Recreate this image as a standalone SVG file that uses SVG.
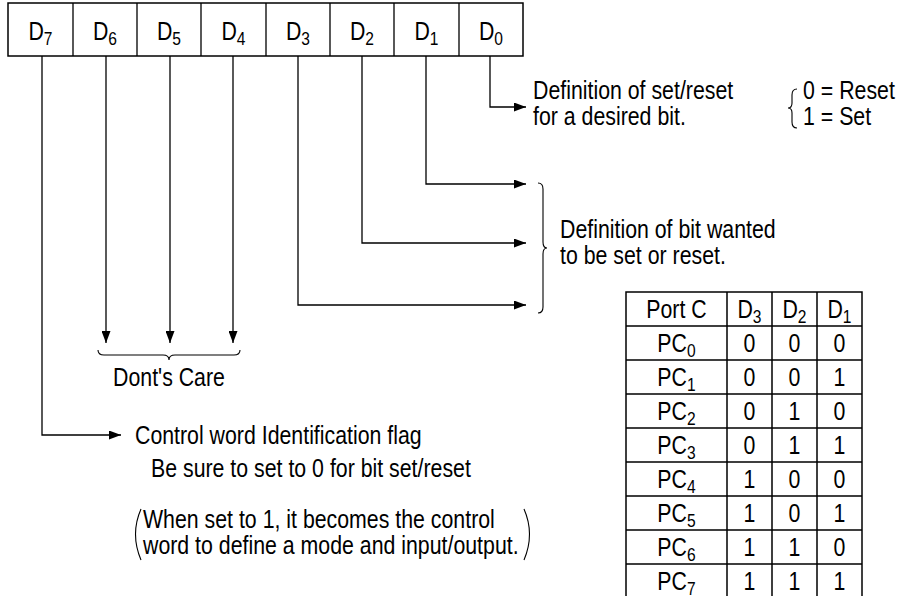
<svg xmlns="http://www.w3.org/2000/svg" width="899" height="596" viewBox="0 0 899 596">
<defs>
<marker id="ah" markerWidth="12" markerHeight="9" refX="12" refY="4.5" orient="auto" markerUnits="userSpaceOnUse">
<path d="M0,0 L12,4.5 L0,9 Z" fill="#000"/>
</marker>
<style>
text{font-family:"Liberation Sans Narrow","Liberation Sans",Arial,sans-serif;font-size:26px;fill:#000}
.c{text-anchor:middle}
.sub{font-size:19px}
.box{fill:#fff;stroke:#000;stroke-width:1.5}
.ln{fill:none;stroke:#000;stroke-width:1.3}
.br{fill:none;stroke:#000;stroke-width:1.1}
.tb{fill:none;stroke:#000;stroke-width:1.5}
</style>
</defs>
<rect width="899" height="596" fill="#fff"/>
<g id="register">
<rect class="box" x="8" y="3" width="515" height="53"/>
<path class="ln" d="M73,3V56M137,3V56M201,3V56M266,3V56M330,3V56M394,3V56M459,3V56" stroke-width="1.5"/>
<text class="c" transform="translate(40.5,40) scale(0.82,1)">D<tspan class="sub" dy="5">7</tspan></text>
<text class="c" transform="translate(105,40) scale(0.82,1)">D<tspan class="sub" dy="5">6</tspan></text>
<text class="c" transform="translate(169,40) scale(0.82,1)">D<tspan class="sub" dy="5">5</tspan></text>
<text class="c" transform="translate(233.5,40) scale(0.82,1)">D<tspan class="sub" dy="5">4</tspan></text>
<text class="c" transform="translate(298,40) scale(0.82,1)">D<tspan class="sub" dy="5">3</tspan></text>
<text class="c" transform="translate(362,40) scale(0.82,1)">D<tspan class="sub" dy="5">2</tspan></text>
<text class="c" transform="translate(426.5,40) scale(0.82,1)">D<tspan class="sub" dy="5">1</tspan></text>
<text class="c" transform="translate(491,40) scale(0.82,1)">D<tspan class="sub" dy="5">0</tspan></text>
</g>
<g id="connectors">
<path class="ln" marker-end="url(#ah)" d="M490,56V107H526"/>
<path class="ln" marker-end="url(#ah)" d="M426,56V184H526"/>
<path class="ln" marker-end="url(#ah)" d="M362,56V243H526"/>
<path class="ln" marker-end="url(#ah)" d="M298,56V305H526"/>
<path class="ln" marker-end="url(#ah)" d="M233,56V343"/>
<path class="ln" marker-end="url(#ah)" d="M170,56V343"/>
<path class="ln" marker-end="url(#ah)" d="M106,56V343"/>
<path class="ln" marker-end="url(#ah)" d="M42,56V435H121"/>
</g>
<g id="setreset">
<text transform="translate(533,99) scale(0.82,1)">Definition of set/reset</text>
<text transform="translate(533,125) scale(0.82,1)">for a desired bit.</text>
<path class="br" d="M797,89Q792,89 792,95V103Q792,108 788,108Q792,108 792,113V122Q792,128 797,128"/>
<text transform="translate(803,99) scale(0.82,1)">0 = Reset</text>
<text transform="translate(803,125) scale(0.82,1)">1 = Set</text>
</g>
<g id="bitwanted">
<path class="br" d="M538,183Q543,183 543,189V242Q543,248 547,248Q543,248 543,254V307Q543,313 538,313"/>
<text transform="translate(560,238) scale(0.82,1)">Definition of bit wanted</text>
<text transform="translate(560,264) scale(0.82,1)">to be set or reset.</text>
</g>
<g id="dontcare">
<path class="br" d="M98,350Q98,355 104,355H163Q169,355 169,360Q169,355 175,355H234Q240,355 240,350"/>
<text class="c" transform="translate(169,386) scale(0.82,1)">Dont's Care</text>
</g>
<g id="controlflag">
<text transform="translate(135,444) scale(0.82,1)">Control word Identification flag</text>
<text transform="translate(151,477) scale(0.82,1)">Be sure to set to 0 for bit set/reset</text>
<path class="br" d="M141,509Q130,534 141,560"/>
<text transform="translate(143,528) scale(0.82,1)">When set to 1, it becomes the control</text>
<text transform="translate(143,554) scale(0.82,1)">word to define a mode and input/output.</text>
<path class="br" d="M524,509Q535,534 524,560"/>
</g>
<g id="table">
<rect class="tb" x="626" y="292" width="236" height="310"/>
<path class="tb" d="M727,292V596M772,292V596M817,292V596M626,326H862M626,360H862M626,394H862M626,428H862M626,462H862M626,496H862M626,530H862M626,564H862"/>
<text class="c" transform="translate(676.5,318) scale(0.82,1)">Port C</text>
<text class="c" transform="translate(749.5,318) scale(0.82,1)">D<tspan class="sub" dy="5">3</tspan></text>
<text class="c" transform="translate(794.5,318) scale(0.82,1)">D<tspan class="sub" dy="5">2</tspan></text>
<text class="c" transform="translate(839.5,318) scale(0.82,1)">D<tspan class="sub" dy="5">1</tspan></text>
<text class="c" transform="translate(676.5,352) scale(0.82,1)">PC<tspan class="sub" dy="5">0</tspan></text>
<text class="c" transform="translate(676.5,386) scale(0.82,1)">PC<tspan class="sub" dy="5">1</tspan></text>
<text class="c" transform="translate(676.5,420) scale(0.82,1)">PC<tspan class="sub" dy="5">2</tspan></text>
<text class="c" transform="translate(676.5,454) scale(0.82,1)">PC<tspan class="sub" dy="5">3</tspan></text>
<text class="c" transform="translate(676.5,488) scale(0.82,1)">PC<tspan class="sub" dy="5">4</tspan></text>
<text class="c" transform="translate(676.5,522) scale(0.82,1)">PC<tspan class="sub" dy="5">5</tspan></text>
<text class="c" transform="translate(676.5,556) scale(0.82,1)">PC<tspan class="sub" dy="5">6</tspan></text>
<text class="c" transform="translate(676.5,590) scale(0.82,1)">PC<tspan class="sub" dy="5">7</tspan></text>
<text class="c" transform="translate(749.5,352) scale(0.82,1)">0</text><text class="c" transform="translate(794.5,352) scale(0.82,1)">0</text><text class="c" transform="translate(839.5,352) scale(0.82,1)">0</text>
<text class="c" transform="translate(749.5,386) scale(0.82,1)">0</text><text class="c" transform="translate(794.5,386) scale(0.82,1)">0</text><text class="c" transform="translate(839.5,386) scale(0.82,1)">1</text>
<text class="c" transform="translate(749.5,420) scale(0.82,1)">0</text><text class="c" transform="translate(794.5,420) scale(0.82,1)">1</text><text class="c" transform="translate(839.5,420) scale(0.82,1)">0</text>
<text class="c" transform="translate(749.5,454) scale(0.82,1)">0</text><text class="c" transform="translate(794.5,454) scale(0.82,1)">1</text><text class="c" transform="translate(839.5,454) scale(0.82,1)">1</text>
<text class="c" transform="translate(749.5,488) scale(0.82,1)">1</text><text class="c" transform="translate(794.5,488) scale(0.82,1)">0</text><text class="c" transform="translate(839.5,488) scale(0.82,1)">0</text>
<text class="c" transform="translate(749.5,522) scale(0.82,1)">1</text><text class="c" transform="translate(794.5,522) scale(0.82,1)">0</text><text class="c" transform="translate(839.5,522) scale(0.82,1)">1</text>
<text class="c" transform="translate(749.5,556) scale(0.82,1)">1</text><text class="c" transform="translate(794.5,556) scale(0.82,1)">1</text><text class="c" transform="translate(839.5,556) scale(0.82,1)">0</text>
<text class="c" transform="translate(749.5,590) scale(0.82,1)">1</text><text class="c" transform="translate(794.5,590) scale(0.82,1)">1</text><text class="c" transform="translate(839.5,590) scale(0.82,1)">1</text>
</g>
</svg>
